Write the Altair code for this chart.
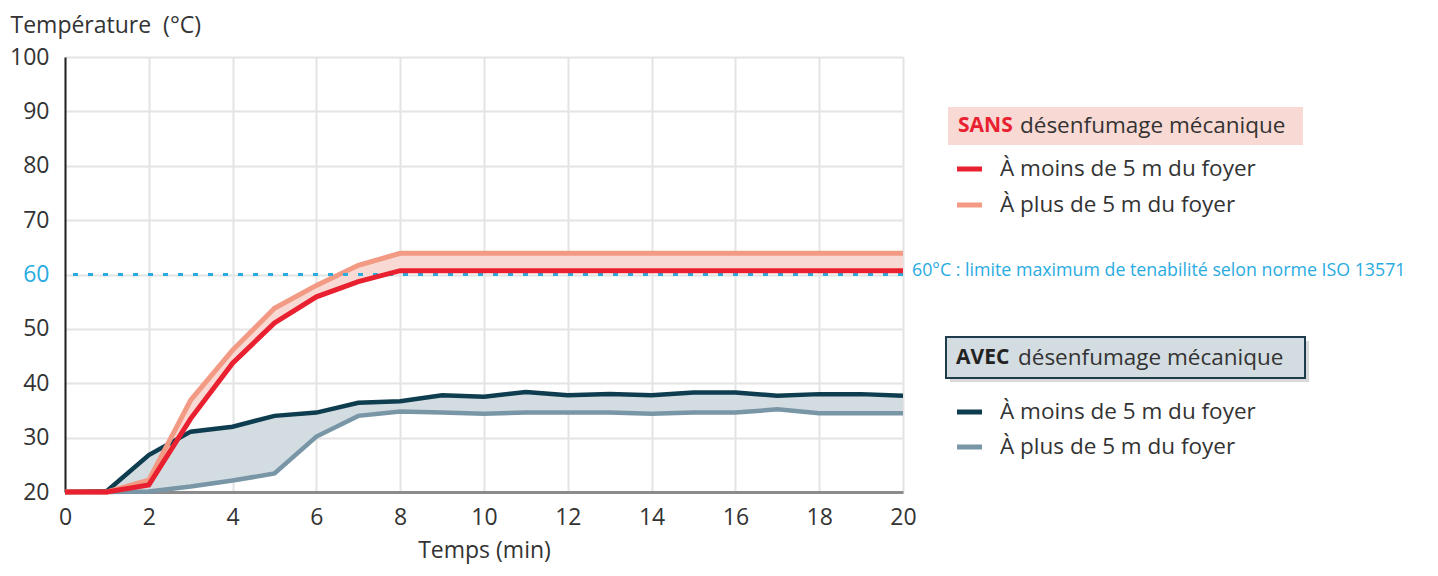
import altair as alt
import pandas as pd

# ---------------- data ----------------
minutes = list(range(21))
sans_moins = [20, 20, 21.3, 33.5, 43.7, 51.1, 55.9, 58.7, 60.7, 60.7, 60.7,
              60.7, 60.7, 60.7, 60.7, 60.7, 60.7, 60.7, 60.7, 60.7, 60.7]
sans_plus = [20, 20, 22.2, 36.9, 46.1, 53.8, 58.0, 61.7, 63.9, 63.9, 63.9,
             63.9, 63.9, 63.9, 63.9, 63.9, 63.9, 63.9, 63.9, 63.9, 63.9]
avec_moins = [20, 20.2, 26.8, 31.1, 32.0, 34.0, 34.6, 36.4, 36.7, 37.8, 37.5,
              38.4, 37.8, 38.0, 37.8, 38.3, 38.3, 37.7, 38.0, 38.0, 37.7]
avec_plus = [20, 20, 20.1, 21.0, 22.1, 23.4, 30.2, 34.0, 34.8, 34.6, 34.4,
             34.6, 34.6, 34.6, 34.4, 34.6, 34.6, 35.2, 34.5, 34.5, 34.5]

x_ticks = list(range(0, 21, 2))
y_ticks = list(range(20, 101, 10))
limit_value = 60
limit_label = "60°C : limite maximum de tenabilité selon norme ISO 13571"

item_labels = ["À moins de 5 m du foyer", "À plus de 5 m du foyer"]
group_bold = ["SANS", "AVEC"]
group_rest = "désenfumage mécanique"

# ---------------- styles ----------------
FONT = "Open Sans"
RED = "#e8202f"
SALMON = "#f29a84"
PINK_FILL = "#f9d9d3"
NAVY = "#0e3d4f"
GREYBLUE = "#7896a6"
GREY_FILL = "#d3dce1"
BLUE = "#29abe2"
TXT = "#333333"

W, H = 838, 435

df = pd.DataFrame({
    "t": minutes,
    "sans_moins": sans_moins,
    "sans_plus": sans_plus,
    "avec_moins": avec_moins,
    "avec_plus": avec_plus,
})

xenc = alt.X(
    "t:Q",
    scale=alt.Scale(domain=[0, 20], nice=False),
    axis=alt.Axis(
        values=x_ticks, title="Temps (min)", ticks=False, labelFlush=False,
        labelFontSize=23, labelFont=FONT, labelColor=TXT, labelPadding=14,
        titleFontSize=23, titleFont=FONT, titleColor=TXT, titleFontWeight="normal",
        titlePadding=10, domainColor="#8c8c8c", domainWidth=3,
        gridColor="#e4e4e4", gridWidth=2,
    ),
)
yscale = alt.Scale(domain=[20, 100], nice=False)
yenc_axis = alt.Axis(
    values=y_ticks, title="Température \u00a0(°C)", ticks=False,
    labelFontSize=23, labelFont=FONT, labelPadding=16,
    labelColor=alt.ExprRef(expr="datum.value == 60 ? '%s' : '%s'" % (BLUE, TXT)),
    titleFontSize=23, titleFont=FONT, titleColor=TXT, titleFontWeight="normal",
    titleAngle=0, titleAlign="left", titleBaseline="middle", titleX=-55, titleY=-32,
    domainColor="#222222", domainWidth=2, gridColor="#e4e4e4", gridWidth=2,
)

base = alt.Chart(df)

area_avec = base.mark_area(color=GREY_FILL, opacity=1).encode(
    x=xenc, y=alt.Y("avec_moins:Q", scale=yscale, axis=yenc_axis), y2="avec_plus:Q")
area_sans = base.mark_area(color=PINK_FILL, opacity=1).encode(
    x="t:Q", y=alt.Y("sans_plus:Q", scale=yscale), y2="sans_moins:Q")

def line(col, color, w):
    return base.mark_line(color=color, strokeWidth=w, strokeJoin="miter").encode(
        x="t:Q", y=alt.Y(col + ":Q", scale=yscale))

one = pd.DataFrame({"k": [0]})

limit_rule = alt.Chart(one).mark_rule(
    color=BLUE, strokeWidth=3, strokeDash=[5, 10]).encode(y=alt.datum(limit_value))
limit_text = alt.Chart(one).mark_text(
    align="left", baseline="middle", font=FONT, fontSize=17.8, color=BLUE, clip=False, dy=-4
).encode(x=alt.value(847), y=alt.datum(limit_value), text=alt.value(limit_label))

# ---------------- custom legend ----------------
legend_layers = []
groups = [
    ("SANS", RED, 50, 88, 883, 1238, PINK_FILL, None, [RED, SALMON], [112, 148]),
    ("AVEC", "#222222", 280, 321, 881, 1240, GREY_FILL, "#1f3c4c", [NAVY, GREYBLUE], [355, 390]),
]
for bold, bcol, y0, y1, x0, x1, fill, stroke, cols, ys in groups:
    if stroke:
        legend_layers.append(alt.Chart(one).mark_rect(color="#000000", opacity=0.15).encode(
            x=alt.value(x0 + 4), x2=alt.value(x1 + 4), y=alt.value(y0 + 4), y2=alt.value(y1 + 4)))
        legend_layers.append(alt.Chart(one).mark_rect(fill=fill, stroke=stroke, strokeWidth=2).encode(
            x=alt.value(x0), x2=alt.value(x1), y=alt.value(y0), y2=alt.value(y1)))
    else:
        legend_layers.append(alt.Chart(one).mark_rect(fill=fill).encode(
            x=alt.value(x0), x2=alt.value(x1), y=alt.value(y0), y2=alt.value(y1)))
    ym = (y0 + y1) / 2
    legend_layers.append(alt.Chart(one).mark_text(
        align="left", baseline="middle", font=FONT, fontSize=21, fontWeight="bold", color=bcol
    ).encode(x=alt.value(x0 + 10), y=alt.value(ym), text=alt.value(bold)))
    legend_layers.append(alt.Chart(one).mark_text(
        align="left", baseline="middle", font=FONT, fontSize=22.5, color=TXT
    ).encode(x=alt.value(x0 + 72), y=alt.value(ym), text=alt.value(group_rest)))
    for c, yy, lab in zip(cols, ys, item_labels):
        legend_layers.append(alt.Chart(one).mark_rule(color=c, strokeWidth=5).encode(
            x=alt.value(892), x2=alt.value(917), y=alt.value(yy)))
        legend_layers.append(alt.Chart(one).mark_text(
            align="left", baseline="middle", font=FONT, fontSize=22.5, color=TXT
        ).encode(x=alt.value(935), y=alt.value(yy), text=alt.value(lab)))

chart = alt.layer(
    area_avec, area_sans,
    line("avec_plus", GREYBLUE, 4.5),
    line("avec_moins", NAVY, 4.5),
    line("sans_plus", SALMON, 5),
    limit_rule,
    line("sans_moins", RED, 5),
    limit_text,
    *legend_layers,
).properties(
    width=W, height=H,
    autosize=alt.AutoSizeParams(type="none"),
    padding={"left": 57, "top": 49, "right": 527, "bottom": 76},
).configure_view(stroke=None).configure(background="white")

chart.save("out.html", embed_options={"renderer": "svg", "actions": False})
